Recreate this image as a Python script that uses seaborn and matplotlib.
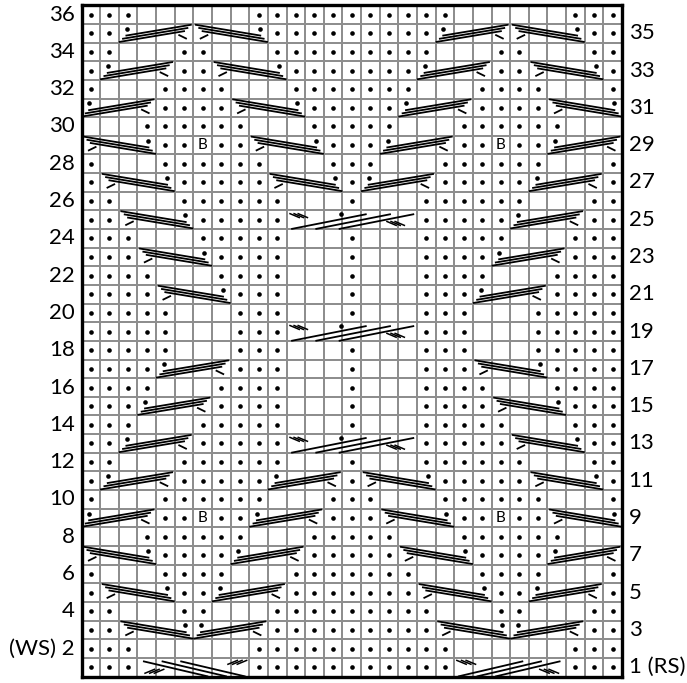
import numpy as np
import matplotlib.pyplot as plt
import seaborn as sns
from matplotlib.colors import ListedColormap

# ---------------- chart data ----------------
n_cols = 29
row_numbers = list(range(36, 0, -1))   # top row first

# x = purl dot, - = knit (blank) or cable cell, B = bobble
stitch_rows = [
    "xxx------xxxxxxxxxxx------xxx",  # 36
    "xx--------xxxxxxxxx--------xx",  # 35
    "xx---xx---xxxxxxxxx---xx---xx",  # 34
    "x----xx----xxxxxxx----xx----x",  # 33
    "x---xxxx---xxxxxxx---xxxx---x",  # 32
    "----xxxx----xxxxx----xxxx----",  # 31
    "---xxxxxx---xxxxx---xxxxxx---",  # 30
    "----xxBxx----xxx----xxBxx----",  # 29
    "x---xxxxxx---xxx---xxxxxx---x",  # 28
    "x----xxxxx----x----xxxxx----x",  # 27
    "xx---xxxxxx---x---xxxxxx---xx",  # 26
    "xx----xxxxx-------xxxxx----xx",  # 25
    "xxx---xxxxx---x---xxxxx---xxx",  # 24
    "xxx----xxxx---x---xxxx----xxx",  # 23
    "xxxx---xxxx---x---xxxx---xxxx",  # 22
    "xxxx----xxx---x---xxx----xxxx",  # 21
    "xxxxx---xxx---x---xxx---xxxxx",  # 20
    "xxxxx---xxx-------xxx---xxxxx",  # 19
    "xxxxx---xxx---x---xxx---xxxxx",  # 18
    "xxxx----xxx---x---xxx----xxxx",  # 17
    "xxxx---xxxx---x---xxxx---xxxx",  # 16
    "xxx----xxxx---x---xxxx----xxx",  # 15
    "xxx---xxxxx---x---xxxxx---xxx",  # 14
    "xx----xxxxx-------xxxxx----xx",  # 13
    "xx---xxxxxx---x---xxxxxx---xx",  # 12
    "x----xxxxx----x----xxxxx----x",  # 11
    "x---xxxxxx---xxx---xxxxxx---x",  # 10
    "----xxBxx----xxx----xxBxx----",  # 9
    "---xxxxxx---xxxxx---xxxxxx---",  # 8
    "----xxxx----xxxxx----xxxx----",  # 7
    "x---xxxx---xxxxxxx---xxxx---x",  # 6
    "x----xx----xxxxxxx----xx----x",  # 5
    "xx---xx---xxxxxxxxx---xx---xx",  # 4
    "xx--------xxxxxxxxx--------xx",  # 3
    "xxx------xxxxxxxxxxx------xxx",  # 2
    "xxx------xxxxxxxxxxx------xxx",  # 1
]

# cables: R = rising (dot left, tick right), L = falling (tick left, dot right),
# C = 7-st centre cable, N / M = 6-st cables on row 1
cable_rows = [35, 35, 35, 35, 33, 33, 33, 33, 31, 31, 31, 31,
              29, 29, 29, 29, 27, 27, 27, 27, 25, 25, 25, 23, 23, 21, 21,
              19, 17, 17, 15, 15, 13, 13, 13,
              11, 11, 11, 11, 9, 9, 9, 9, 7, 7, 7, 7, 5, 5, 5, 5,
              3, 3, 3, 3, 1, 1]
cable_cols = [2, 6, 19, 23, 1, 7, 18, 24, 0, 8, 17, 25,
              0, 9, 16, 25, 1, 10, 15, 24, 2, 23, 11, 3, 22, 4, 21,
              11, 4, 21, 3, 22, 2, 23, 11,
              1, 10, 15, 24, 0, 9, 16, 25, 0, 8, 17, 25, 1, 7, 18, 24,
              2, 6, 19, 23, 3, 20]
cable_kinds = ["R", "L", "R", "L", "R", "L", "R", "L", "R", "L", "R", "L",
               "L", "L", "R", "R", "L", "L", "R", "R", "L", "R", "C", "L", "R", "L", "R",
               "C", "R", "L", "R", "L", "R", "L", "C",
               "R", "R", "L", "L", "R", "R", "L", "L", "L", "R", "L", "R",
               "L", "R", "L", "R", "L", "R", "L", "R", "M", "N"]

left_labels = {r: str(r) for r in range(36, 3, -2)}
left_labels[2] = "(WS) 2"
right_labels = {r: str(r) for r in range(35, 2, -2)}
right_labels[1] = "1 (RS)"

plt.rcParams['font.family'] = ['Lato', 'DejaVu Sans']

LW = 1.3


def ypos(row, u):
    # heatmap y axis runs downward: row 36 is at the top
    return 37 - row - u


def seg(ax, row, a, width, p0, p1, mirror, lw=LW):
    xs = [p0[0], p1[0]]
    if mirror:
        xs = [width - x for x in xs]
    ax.plot([a + xs[0], a + xs[1]], [ypos(row, p0[1]), ypos(row, p1[1])],
            color='black', lw=lw, solid_capstyle='butt', zorder=4)


def dot(ax, row, a, width, p, mirror):
    x = width - p[0] if mirror else p[0]
    ax.scatter([a + x], [ypos(row, p[1])], s=11, color='black', linewidths=0, zorder=5)


def draw_cable(ax, row, a, kind):
    if kind in ("R", "L"):
        m = kind == "L"
        for k in range(3):
            seg(ax, row, a, 4, (0.0 + 0.18 * k, 0.03 + 0.17 * k),
                (3.55 + 0.18 * k, 0.62 + 0.17 * k), m)
        seg(ax, row, a, 4, (3.2, 0.42), (3.65, 0.2), m)
        dot(ax, row, a, 4, (0.42, 0.74), m)
    elif kind == "C":
        for x0 in (0.25, 1.55, 2.8):
            seg(ax, row, a, 7, (x0, 0.0), (x0 + 4.05, 0.8), False)
        for j in range(3):
            seg(ax, row, a, 7, (0.15 + 0.22 * j, 0.84), (0.72 + 0.22 * j, 0.6), False, lw=1.1)
            seg(ax, row, a, 7, (5.35 + 0.22 * j, 0.42), (5.92 + 0.22 * j, 0.18), False, lw=1.1)
        dot(ax, row, a, 7, (2.95, 0.8), False)
    else:
        m = kind == "M"
        for x0 in (0.2, 1.2, 2.2):
            seg(ax, row, a, 6, (x0, 0.0), (x0 + 3.5, 0.82), m)
        for j in range(3):
            seg(ax, row, a, 6, (0.1 + 0.25 * j, 0.88), (0.68 + 0.25 * j, 0.64), m, lw=1.1)
            seg(ax, row, a, 6, (4.55 + 0.25 * j, 0.4), (5.13 + 0.25 * j, 0.16), m, lw=1.1)


fig = plt.figure(figsize=(6.87, 6.83), dpi=100)
ax = fig.add_axes([81.5 / 687, 6.5 / 683, 540.5 / 687, 671.2 / 683])

grid = np.zeros((len(row_numbers), n_cols))
sns.heatmap(grid, cmap=ListedColormap(['white']), cbar=False, linewidths=1.4,
            linecolor='#8e8e8e', xticklabels=False, yticklabels=False, ax=ax)

for s in ax.spines.values():
    s.set_visible(True)
    s.set_linewidth(2.4)
    s.set_color('black')
    s.set_zorder(6)

# purl dots and bobbles
px, py = [], []
for row, line in zip(row_numbers, stitch_rows):
    for c, ch in enumerate(line):
        if ch == 'x':
            px.append(c + 0.5)
            py.append(ypos(row, 0.5))
        elif ch == 'B':
            ax.text(c + 0.5, ypos(row, 0.5), 'B', ha='center', va='center',
                    fontsize=11, zorder=5)
ax.scatter(px, py, s=11, color='black', linewidths=0, zorder=5)

for row, col, kind in zip(cable_rows, cable_cols, cable_kinds):
    draw_cable(ax, row, col, kind)

for row, lab in left_labels.items():
    ax.text(-0.35, ypos(row, 0.5), lab, ha='right', va='center', fontsize=16, clip_on=False)
for row, lab in right_labels.items():
    ax.text(n_cols + 0.35, ypos(row, 0.5), lab, ha='left', va='center', fontsize=16, clip_on=False)

ax.set_xlim(0, n_cols)
ax.set_ylim(len(row_numbers), 0)
fig.savefig('out.png', dpi=100)
